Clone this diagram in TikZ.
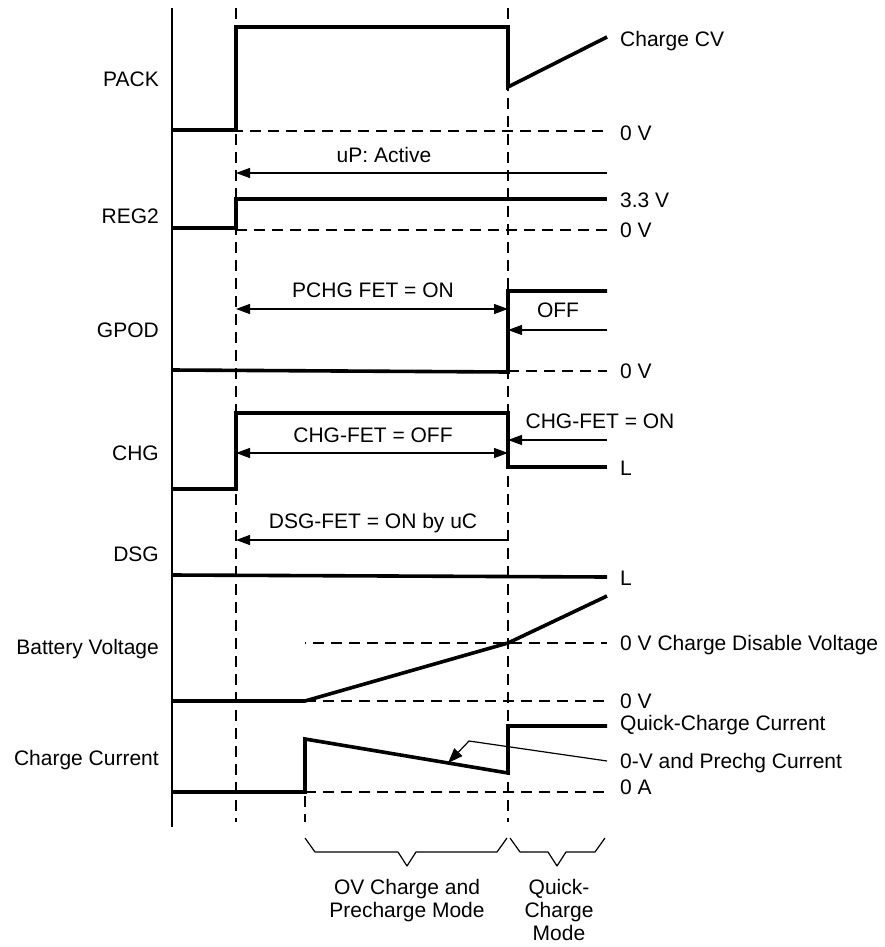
\documentclass[tikz,border=0pt]{standalone}
\usepackage{fontspec}
\setmainfont{Liberation Sans}
\usetikzlibrary{arrows.meta}

\begin{document}
\begin{tikzpicture}[
    x=1pt, y=-1pt, % picture measured in pixels, y going down
    font=\fontsize{21}{23}\selectfont,
    signal/.style={line width=3.6pt, line join=miter}, % thick waveforms
    axis/.style={line width=2pt},
    guide/.style={line width=1.2pt, dash pattern=on 11pt off 7pt}, % dashed time marks and 0 levels
    span/.style={line width=1.2pt, -{Triangle[length=14pt,width=10pt]}},
    both/.style={line width=1.2pt, {Triangle[length=14pt,width=10pt]}-{Triangle[length=14pt,width=10pt]}},
    brace/.style={line width=1.2pt, line join=round},
    level/.style={anchor=base west, inner sep=0pt}, % texts right of the waveforms
    signame/.style={anchor=base east, inner sep=0pt}, % texts left of the axis
    note/.style={anchor=base, inner sep=0pt}, % texts over the arrows
    mode/.style={anchor=north, align=center, inner sep=0pt},
  ]

  \useasboundingbox (0,0) rectangle (884,947);

  % time marks
  \def\tl{172}
  \def\ta{236}
  \def\tb{305}
  \def\tc{508}
  \def\te{607}
  \def\lx{620}
  \def\nx{159}

  \draw[axis] (\tl,8) -- (\tl,827);
  \draw[guide] (\ta,8) -- (\ta,822);
  \draw[guide] (\tc,8) -- (\tc,822);
  \draw[guide] (\tb,796) -- (\tb,822);

  % PACK
  \node[signame] (pack) at (\nx,87) {PACK};
  \draw[signal] (\tl,130) -- (\ta,130) -- (\ta,27) -- (\tc,27) -- (\tc,87) -- (\te,37);
  \draw[guide, dash phase=4pt] (\ta,131) -- (\te,131);
  \node[level] (cv) at (\lx,47) {Charge CV};
  \node[level] (packzero) at (\lx,140) {0 V};

  % uP active
  \coordinate (upR) at (\te,173);
  \coordinate (upL) at (\ta,173);
  \draw[span] (upR) -- (upL);
  \node[note] (up) at (384,162) {uP: Active};

  % REG2
  \node[signame] (reg) at (\nx,223) {REG2};
  \draw[signal] (\tl,228) -- (\ta,228) -- (\ta,199) -- (\te,199);
  \draw[guide] (\ta,230) -- (\te,230);
  \node[level] (regon) at (\lx,207) {3.3 V};
  \node[level] (regzero) at (\lx,237) {0 V};

  % GPOD
  \node[signame] (gpod) at (\nx,337) {GPOD};
  \draw[signal] (\tl,370) -- (\tc,372) -- (\tc,291) -- (\te,291);
  \draw[guide] (\tc,371) -- (\te,371);
  \node[level] (gpodzero) at (\lx,378) {0 V};
  \coordinate (pchgL) at (\ta,309);
  \coordinate (pchgR) at (\tc,309);
  \draw[both] (pchgL) -- (pchgR);
  \node[note] (pchg) at (373,297) {PCHG FET = ON};
  \coordinate (offR) at (\te,330);
  \coordinate (offL) at (\tc,330);
  \draw[span] (offR) -- (offL);
  \node[note] (off) at (558,317) {OFF};

  % CHG
  \node[signame] (chg) at (\nx,460) {CHG};
  \draw[signal] (\tl,489) -- (\ta,489) -- (\ta,413) -- (\tc,413) -- (\tc,467) -- (\te,467);
  \node[level] (chglow) at (\lx,475) {L};
  \coordinate (cfL) at (\ta,453);
  \coordinate (cfR) at (\tc,453);
  \draw[both] (cfL) -- (cfR);
  \node[note] (chgoff) at (373,442) {CHG-FET = OFF};
  \coordinate (conR) at (\te,440);
  \coordinate (conL) at (\tc,440);
  \draw[span] (conR) -- (conL);
  \node[note] (chgon) at (600,428) {CHG-FET = ON};

  % DSG
  \coordinate (dsgR) at (\tc,540);
  \coordinate (dsgL) at (\ta,540);
  \draw[span] (dsgR) -- (dsgL);
  \node[note] (dsgon) at (373,528) {DSG-FET = ON by uC};
  \node[signame] (dsg) at (\nx,561) {DSG};
  \draw[signal] (\tl,575) -- (\te,577);
  \node[level] (dsglow) at (\lx,585) {L};

  % Battery voltage
  \node[signame] (bat) at (\nx,654) {Battery Voltage};
  \draw[signal] (\tl,701) -- (\tb,701) -- (\tc,643) -- (\te,596);
  \draw[guide, dash phase=10pt] (\tb,643) -- (\te,643);
  \draw[guide] (\tb,701) -- (\te,701);
  \node[level] (cdv) at (\lx,650) {0 V Charge Disable Voltage};
  \node[level] (batzero) at (\lx,708) {0 V};

  % Charge current
  \node[signame] (cur) at (\nx,765) {Charge Current};
  \draw[signal] (\tl,792) -- (\tb,792) -- (\tb,739) -- (\tc,773) -- (\tc,726) -- (\te,726);
  \draw[guide] (\tb,792) -- (\te,792);
  \node[level] (quick) at (\lx,730) {Quick-Charge Current};
  \node[level] (pre) at (\lx,768) {0-V and Prechg Current};
  \node[level] (curzero) at (\lx,794) {0 A};
  \coordinate (preA) at (\te,761);
  \coordinate (preB) at (469,741);
  \coordinate (preC) at (448,763);
  \draw[line width=1.2pt, -{Triangle[length=15pt,width=11pt]}] (preA) -- (preB) -- (preC);

  % modes
  \draw[brace] (\tb,838) -- (315,852) -- (398,852) -- (407,866) -- (416,852) -- (497,852) -- (507,838);
  \draw[brace] (510,838) -- (520,852) -- (548,852) -- (557,866) -- (566,852) -- (595,852) -- (605,838);
  \node[mode] (ovmode) at (407,879) {OV Charge and\\Precharge Mode};
  \node[mode] (qmode) at (559,879) {Quick-\\Charge\\Mode};

\end{tikzpicture}
\end{document}
